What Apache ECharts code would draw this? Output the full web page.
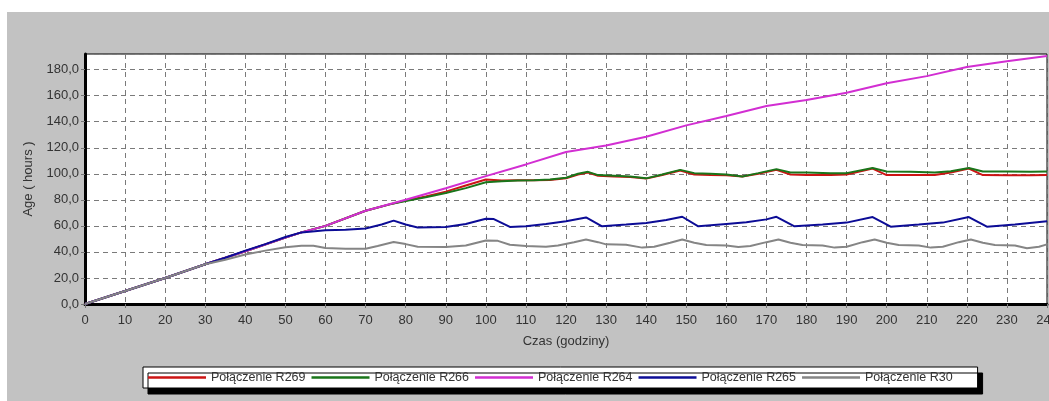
<!DOCTYPE html>
<html>
<head>
<meta charset="utf-8">
<style>
  html, body { margin: 0; padding: 0; background: #ffffff; overflow: hidden; }
  #chart { width: 1049px; height: 401px; }
</style>
<script src="https://cdn.jsdelivr.net/npm/echarts@6/dist/echarts.min.js"></script>
</head>
<body>
<div id="chart"></div>
<script>
// Series names (legend order)
const seriesNames = ['Połączenie R269', 'Połączenie R266', 'Połączenie R264', 'Połączenie R265', 'Połączenie R30'];
const seriesColors = ['#cc1414', '#1a751a', '#d22ed2', '#0c0c96', '#858585'];

// [hour, age in hours]
const r269 = [[0,0],[10,10],[20,20],[30,30.5],[40,40.5],[50,51],[54,55],[60,60],[70,71.6],[76,76.5],
  [80,79.5],[85,82.5],[90,86.3],[95,91],[100,95.6],[104,94.8],[108,95],[112,95],[116,95.3],[120,96.5],
  [123,99.5],[125.5,101],[128,98.5],[132,98],[136,97.5],[140,96.3],[144,99],[148.5,102.5],[152,99.5],
  [156,99],[160,98.8],[164,98],[168,100],[172.5,103],[176,99.5],[180,99],[186,99],[190,99.5],
  [196.5,104],[200,99],[206,99],[212,99],[216,101],[220.5,104],[224,99],[230,98.8],[236,98.8],[240,99]];

const r266 = [[0,0],[10,10],[20,20],[30,30.5],[40,40.5],[50,51],[54,55],[60,60],[70,71.6],[76,76.5],
  [80,79],[85,82],[90,85.3],[95,89],[100,93.5],[104,94.3],[108,94.8],[112,95],[116,95.6],[120,97],
  [123,100],[125.5,101.5],[128,99],[132,98.5],[136,98],[140,96.5],[144,99.5],[148.5,103],[152,100.5],
  [156,100],[160,99.5],[164,98],[168,100.5],[172.5,103.6],[176,101],[180,101],[186,100.5],[190,100.5],
  [196.5,104.4],[200,101.8],[206,101.5],[212,101],[216,102],[220.5,104.4],[224,101.8],[230,101.8],[236,101.5],[240,101.8]];

const r264 = [[0,0],[10,10],[20,20],[30,30.5],[40,40.5],[50,51],[54,55],[60,60],[70,71.6],[80,80],
  [90,88.9],[100,98.2],[110,107.2],[120,116.7],[130,121.8],[140,128.5],[150,137.2],[160,144.4],
  [170,152],[180,156.7],[190,162.3],[200,169.5],[210,175],[220,182],[230,186.5],[240,190.5]];

const r265 = [[0,0],[10,10],[20,20],[30,30.5],[35,35.5],[40,41],[45,46],[50,51.5],[54,55],[60,56.6],
  [65,57],[70,58],[74,61],[77,64],[80,61],[83,58.7],[90,59.2],[95,61.5],[100,65.5],[102,65.2],[106,59.2],
  [110,59.7],[115,61.5],[120,63.5],[125,66.5],[129,59.7],[135,61],[140,62.2],[145,64.5],[149,67],
  [153,59.7],[160,61.5],[165,62.7],[170,65],[172.5,67],[177,59.7],[184,61],[190,62.5],[196.5,66.8],
  [201,59.4],[208,61],[214,62.5],[220.5,66.8],[225,59.4],[232,61],[240,63.5]];

const r30 = [[0,0],[10,10],[20,20],[30,30.5],[35,34],[40,38],[45,41],[50,43.5],[54,44.8],[57,44.8],
  [60,43],[65,42.5],[70,42.5],[73,44.5],[77,47.6],[80,46],[83,44],[90,43.7],[95,45],[100,48.8],[103,48.5],
  [106,45.5],[110,44.5],[115,44],[118,45],[122,47.5],[125,49.5],[128,47.5],[130,45.8],[135,45.5],
  [139,43.3],[142,44],[146,47],[149,49.6],[152,47],[155,45.3],[160,45],[163,43.8],[166,44.5],[170,47.5],
  [173,49.6],[176,47],[179,45.3],[184,45],[187,43.3],[190,44],[194,47.5],[197,49.6],[200,47],[203,45.3],
  [208,45],[211,43.3],[214,44],[218,47.5],[221,49.6],[224,47],[227,45.3],[232,45],[235,42.8],[238,44],[240,45.8]];

const seriesData = [r269, r266, r264, r265, r30];

const FONT = '"Liberation Sans", Arial, sans-serif';
const textColor = '#333333';

const chart = echarts.init(document.getElementById('chart'), null, { renderer: 'canvas', width: 1049, height: 401 });

chart.setOption({
  animation: false,
  backgroundColor: '#ffffff',
  graphic: [{
    type: 'rect',
    z: -10,
    silent: true,
    shape: { x: 7, y: 12, width: 1042, height: 389 },
    style: { fill: '#c2c2c2' }
  }],
  grid: {
    left: 85, right: 2, top: 54, bottom: 97,
    outerBoundsMode: 'none',
    containLabel: false,
    show: true,
    backgroundColor: '#ffffff',
    borderColor: '#000000',
    borderWidth: 1
  },
  legend: {
    data: seriesNames,
    left: 143,
    top: 367,
    orient: 'horizontal',
    icon: 'rect',
    itemWidth: 58,
    itemHeight: 2.5,
    itemGap: 6,
    padding: [4, 25, 4, 5],
    backgroundColor: '#ffffff',
    borderColor: '#000000',
    borderWidth: 1,
    shadowColor: '#000000',
    shadowBlur: 0,
    shadowOffsetX: 5,
    shadowOffsetY: 6,
    selectedMode: false,
    textStyle: { fontFamily: FONT, fontSize: 12.5, color: textColor }
  },
  xAxis: {
    type: 'value',
    min: 0, max: 240, interval: 10,
    name: 'Czas (godziny)',
    nameLocation: 'middle',
    nameGap: 31,
    nameTextStyle: { fontFamily: FONT, fontSize: 13, color: textColor },
    axisLine: { show: true, onZero: false, lineStyle: { color: '#000000', width: 3 } },
    axisTick: { show: true, length: 4, lineStyle: { color: '#777777' } },
    axisLabel: { fontFamily: FONT, fontSize: 13, color: textColor, margin: 10, showMaxLabel: true, hideOverlap: false },
    splitLine: { show: true, lineStyle: { color: '#7a7a7a', type: [5, 4], width: 1 } }
  },
  yAxis: {
    type: 'value',
    min: 0, max: 192, interval: 20,
    name: 'Age ( hours )',
    nameLocation: 'middle',
    nameGap: 50,
    nameTextStyle: { fontFamily: FONT, fontSize: 13, color: textColor },
    axisLine: { show: true, lineStyle: { color: '#000000', width: 3 } },
    axisTick: { show: true, length: 4, lineStyle: { color: '#777777' } },
    axisLabel: {
      fontFamily: FONT, fontSize: 13, color: textColor, margin: 6,
      showMaxLabel: false,
      formatter: v => v.toFixed(1).replace('.', ',')
    },
    splitLine: { show: true, lineStyle: { color: '#7a7a7a', type: [5, 4], width: 1 } }
  },
  series: seriesNames.map((name, i) => ({
    name,
    type: 'line',
    data: seriesData[i],
    showSymbol: false,
    symbol: 'none',
    color: seriesColors[i],
    lineStyle: { color: seriesColors[i], width: 2 },
    clip: true
  }))
});
</script>
</body>
</html>
